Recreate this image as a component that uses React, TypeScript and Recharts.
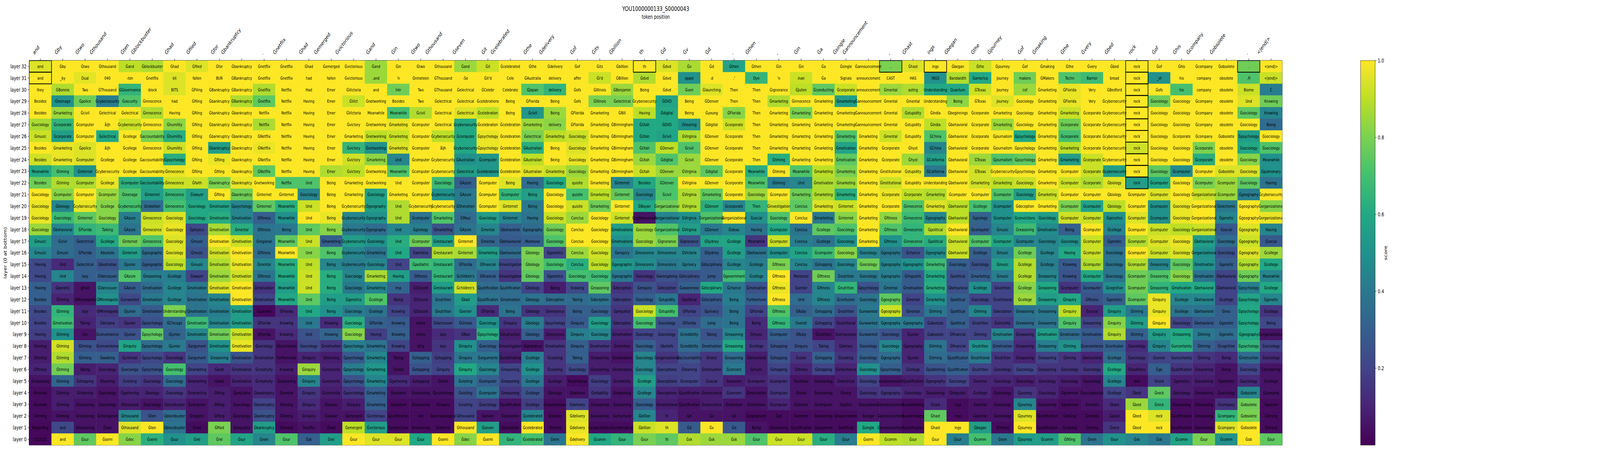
import React from 'react';
import { ScatterChart, Scatter, XAxis, YAxis, ReferenceArea, BarChart, Bar } from 'recharts';

const FONT = '"DejaVu Sans", sans-serif';

// token position labels (top axis)
const tokens = [
  'and', 'Ġby', 'Ġtwo', 'Ġthousand', 'Ġten', 'Ġblockbuster', 'Ġhad', 'Ġfiled', 'Ġfor', 'Ġbankruptcy', '.', 'Ġnetflix', 'Ġhad', 'Ġemerged',
  'Ġvictorious', 'Ġand', 'Ġin', 'Ġtwo', 'Ġthousand', 'Ġseven', 'Ġit', 'Ġcelebrated', 'Ġthe', 'Ġdelivery', 'Ġof', 'Ġits', 'Ġbillion', 'th',
  'Ġd', 'Ġv', 'Ġd', '.', 'Ġthen', ',', 'Ġin', 'Ġa', 'Ġsingle', 'Ġannouncement', ',', 'Ġhast', 'ings', 'Ġbegan',
  'Ġthe', 'Ġjourney', 'Ġof', 'Ġmaking', 'Ġthe', 'Ġvery', 'Ġbed', 'rock',
  'Ġof', 'Ġhis', 'Ġcompany', 'Ġobsolete', '.', '<|end|>',
];

// rows from top to bottom
const layerNumbers = [32, 31, 30, 29, 28, 27, 26, 25, 24, 23, 22, 21, 20, 19, 18, 17, 16, 15, 14, 13, 12, 11, 10, 9, 8, 7, 6, 5, 4, 3, 2, 1, 0];

// top decoded token per cell, one line per layer (same order as layerNumbers), space separated
const topWords = [
  "and Ġby Ġtwo Ġthousand Ġand Ġblockbuster Ġhad Ġfiled Ġfor Ġbankruptcy Ġnetflix Ġnetflix Ġhad Ġemerged Ġvictorious Ġand Ġin Ġtwo Ġthousand Ġand Ġit Ġcelebrated Ġthe Ġdelivery Ġof Ġits Ġbillion th Ġdvd Ġv Ġd Ġthen Ġthen Ġin Ġin Ġa Ġsingle Ġannouncement , Ġhast ings Ġbegan Ġthe Ġjourney Ġof Ġmaking Ġthe Ġvery Ġbed rock Ġof Ġhis Ġcompany Ġobsolete . <|end|>",
  "and _by Dual 040 -ten Ġnetflix kit fallen BUR ĠBankruptcy Ġnetflix Ġnetflix had fallen Ġvictorious ,and 'n Ġnineteen ĠThousand -Se Ġit'd Cele ĠAustralia delivery affer Ġi'd ĠBillion Ġdvd Ġdvd oppel .d .' Dyn 'n inan Ġa Signals announcement CAST HAS INGS Bandwidth Ġamerica Journey makers ĠMakers Techn Barrier bread rock _of his company obsolete .Ĥ <|end|>",
  "they ĠBonnie Two ĠThousand ĠGovernance :block BITS ĠFiling ĠBankruptcy ĠBankruptcy Ġnetflix Netflix Had Emer ĠVictoria and Intr Two ĠThousand Ġelectrical ĠCelebr Celebrate ĠJapan delivery Ġofs ĠIllinois ĠBenjamin Being Ġdvd Ġven Ġlaunching Then Then Ġignorance ĠJulien Ġconducting Ġcorporate announcement Ġmental asting Understanding Quantum ĠTexas Journey ċof Ġmarketing ĠFlorida Very ĠBedford rock Ġofs his company obsolete Biome Ċ",
  "Besides Ġteenage Ġpolice Ġcybersecurity Ġsecurity Ġinnocence had Ġfiling Ġbankruptcy ĠBankruptcy Ġnetflix Netflix Having Emer ĠVict Ġnetworking Besides Two Ġelectrical Ġelectrical Ġcelebrations Being ĠFlorida Being Ġofs ĠIllinois Ġelectrical Ġcybersecurity ĠDVD Being ĠDenver Then Then Ġmarketing Ġinnocence Ġmarketing Ġmarketing Ġannouncement Ġmental Ġmental Understanding Being ĠTexas Journey Ġsociology Ġmarketing ĠFlorida Very Ġcybersecurity rock Ġsociology Ġsociology Ġcompany obsolete Und Knowing",
  "Besides Ġmarketing Ġcivil Ġelectrical Ġelectrical Ġinnocence Having Ġfiling Ġbankruptcy Ġbankruptcy Netflix Netflix Having Emer ĠVictoria Meanwhile Meanwhile Ġcivil Ġelectrical Ġelectrical Ġcelebration Being Ġcivil Being ĠFlorida Ġmarketing ĠBill Having Ġdigital Being Ġyoung ĠFlorida Then Ġmarketing Ġmarketing Ġmarketing Ġmarketing Ġannouncement Ġmental Ġstupidity ĠIndia Ġbeginnings Ġcorporate Ġmarketing Ġsociology Ġmarketing Ġmarketing Ġcorporate Ġcybersecurity rock Ġsociology Ġsociology Ġcompany obsolete Ġsociology Knowing",
  "Ġsociology Ġcorporate Ġcomputer åĳh Ġcybersecurity Ġinnocence Ġhumility Ġfiling Ġbankruptcy Ġbankruptcy Netflix Netflix Having Emer Ġvictory Ġnetworking Ġmarketing Ġcomputer Ġelectrical Ġcybersecurity Ġcelebration Ġcelebration Ġmarketing delivery ĠFlorida Ġmarketing ĠBirmingham ĠUtah ĠDVD Ġhearing Ġdigital Ġcorporate Then Ġmarketing Ġmarketing Ġmarketing Ġmarketing Ġannouncement Ġmental Ġstupidity ĠIndia Ġbehavioral Ġcorporate Ġmarketing Ġsociology Ġmarketing Ġcorporate Ġcorporate Ġcybersecurity rock Ġsociology Ġsociology Ġcompany obsolete Ġsociology Being",
  "Ġmusic Ġcorporate Ġcomputer Ġelectrical Ġcollege Ġaccountability Ġhumility Ġfiling Ġbankruptcy Ġbankruptcy ĠNetflix Netflix Having Emer Ġmarketing Ġnetworking Ġmarketing Ġcomputer Ġcybersecurity Ġcomputer Ġpsychology Ġcelebration Ġelectrical Ġmarketing Ġsociology Ġmarketing ĠBirmingham ĠUtah Ġcivil ĠVirginia ĠDenver Ġcorporate Then Ġmarketing Ġmarketing Ġmarketing Ġmarketing Ġmarketing Ġmental Ġstupidity ĠChina Ġbehavioral Ġcorporate Ġjournalism Ġpsychology Ġmarketing Ġcorporate Ġcorporate Ġcybersecurity rock Ġsociology Ġcorporate Ġcompany Ġobsolete Ġpsychology Ġsociology",
  "Besides Ġmarketing Ġpolice åĳh Ġcollege Ġinnocence Ġhumility Ġfiling Ġbankruptcy Ġbankruptcy ĠNetflix Netflix Having Emer Ġvictory Ġnetworking Ġmarketing Ġcomputer åĳh Ġcybersecurity Ġpsychology Ġcelebration ĠAustralian Being Ġsociology Ġmarketing ĠBirmingham ĠUtah ĠDenver Ġcivil ĠDenver Ġcorporate Then Ġmarketing Ġmarketing Ġmarketing Ġmotivation Ġmarketing Ġcorporate Ġhyst ĠChina Ġbehavioral Ġcorporate Ġjournalism Ġpsychology Ġmarketing Ġmarketing Ġcorporate Ġcybersecurity rock Ġsociology Ġsociology Ġcorporate obsolete Ġsociology Ġsociology",
  "Besides Ġmarketing Ġcomputer Ġcollege Ġcollege Ġaccountability Ġpsychology Ġfiling Ġfiling Ġbankruptcy ĠNetflix Netflix Having Emer Ġvictory Ġmarketing Und Ġcomputer Ġcybersecurity ĠAustralian Ġcomputer Ġcelebration ĠAustralian Being Ġsociology Ġmarketing ĠBirmingham ĠUtah Ġdigital Ġcivil ĠDenver Ġcorporate Then Ġtiming Ġmarketing Ġmarketing Ġmotivation Ġmarketing Ġcorporate Ġhyst ĠCalifornia Ġbehavioral ĠTexas Ġjournalism Ġpsychology Ġmarketing Ġmarketing Ġcorporate Ġcybersecurity rock Ġsociology Ġsociology Ġcorporate obsolete Ġsociology Meanwhile",
  "Meanwhile Ġtiming Ġinternet Ġcybersecurity Ġcollege Ġaccountability Ġinnocence Ġfiling Ġfiling Ġbankruptcy ĠNetflix Netflix Having Emer Ġvictory Ġnetworking Meanwhile Ġcomputer Ġcybersecurity Ġelectrical Ġcelebrations Ġcelebration ĠAustralian Ġmarketing Ġsociology Ġmarketing ĠBirmingham ĠUtah ĠDenver ĠVirginia Ġdigital Ġcorporate Meanwhile Ġtiming Meanwhile Ġmarketing Ġmarketing Ġmarketing Ġinstitutional Ġstupidity ĠCalifornia Ġbehavioral ĠTexas Ġcybersecurity Ġpsychology Ġmarketing Ġcomputer Ġcorporate Ġcybersecurity rock Ġsociology Ġcomputer Ġcomputer Ġobsolete Ġsociology Ġpulmonary",
  "Besides Ġtiming Ġcomputer Ġcollege Ġcomputer Ġaccountability Ġinnocence Ġfaith Ġbankruptcy Ġbankruptcy Ġnetworking Netflix Und Being Ġmarketing Ġnetworking Und Ġcomputer Ġsociology ĠAzure Ġcomputer Being Having Ġsociology quisite Ġmarketing Ġinternet Besides ĠDenver ĠVirginia ĠDenver Ġcorporate Meanwhile Ġtiming Und Ġmotivation Ġmarketing Ġmarketing Ġinstitutional Ġstupidity Understanding Ġbehavioral Ġmarketing Ġmarketing Ġsociology Ġmarketing Ġcomputer Ġcorporate Ġbiology rock Ġcomputer Ġsociology Ġcomputer Ġcomputer Ġsociology Having",
  "Ġsociology Ġcomputer Ġcomputer Ġcomputer Ġteenage Ġinternet Ġinnocence Ġlawyer Ġfiling Ġbankruptcy Ġinternet Ġinternet Ġsociology Being Ġmarketing Ġsociology Ġmarketing Ġcomputer Ġcybersecurity ĠAzure Ġcomputer Ġcomputer Being Ġsociology quisite Ġmarketing Ġinternet Ġsociology Ġcivil ĠVirginia Ġmarketing Ġcorporate Ġsociology Ġcomputer Ġmarketing Ġmarketing Ġmarketing Ġmarketing Ġcorporate Ġcorporate Ġmarketing Ġcomputer Ġcomputer Ġcomputer Ġsociology Ġmarketing Ġcomputer Ġcomputer Ġbiology Ġcomputer Ġcomputer Ġsociology Ġorganizational Ġcomputer Ġgeography Ġcybersecurity",
  "Ġsociology Ġbiology Ġcybersecurity Ġcollege Ġcybersecurity Ġrebellion Ġinnocence Ġsociology Ġmotivation Ġpsychology Ġinternet Meanwhile Und Being Ġcybersecurity Ġgeography Und Ġcybersecurity Ġcybersecurity ĠShenzhen Ġcomputer Ġinternet Being Ġsociology quisite Ġmarketing Ġinternet ĠBayan Ġorganizational ĠVirginia ĠDenver Ġcorporate Then Ġinvestigation Conclus Ġmarketing Ġinternet Ġmarketing Ġcorporate Ġinnocence Ġmarketing Ġbehavioral Ġcollege Ġcomputer Ġdeception Ġmarketing Ġcomputer Ġcomputer Ġbiology Ġcomputer Ġcomputer Ġsociology Ġorganizational Ġelectronic Ġgeography Ġorganizational",
  "Ġsociology Ġsociology Ġinternet Ġsociology ĠAzure Ġinnocence Ġsociology Ġsociology Ġmotivation Ġmotivation Ġfitness Meanwhile Und Being Ġcybersecurity Ġgeography Und Ġcomputer Ġmarketing ĠMaui Ġsociology Ġinternet Having Ġsociology Conclus Ġsociology Ġinternet Ġrighteousness Ġorganizational ĠVirginia Ġorganizational Ġorganizational Ġsocial Ġsociology Conclus Ġmarketing Ġinternet Ġmarketing Ġfitness Ġinnocence Ġgeography Ġbehavioral Ġgeology Ġcomputer Ġconvictions Ġsociology Ġcomputer Ġcomputer Ġgenetics Ġcomputer Ġcomputer Ġsociology Ġorganizational Ġgenetic Ġgeography Ġorganizational",
  "Ġsociology Ġbehavioral ĠFlorida Talking ĠAzure Ġinnocence Ġsociology Ġphysics Ġmotivation Ġmental Ġfitness Being Und Being Ġcybersecurity Ġgeography Und Ġgeology Ġmarketing ĠAzure Ġmental Ġbehavioral Ġgeography Ġsociology Conclus Ġsociology Ġmotivations Ġsociology Ġorganizational ĠVirginia ĠDenver Ġideas Having Ġcomputer Conclus Ġcollege Ġsociology Ġmarketing Ġfitness Ġinnocence Ġpolitical Ġbehavioral Ġcomputer Ġmusic Ġreasoning Ġmotivation Being Ġcomputer Ġcollege Ġcomputer Ġcomputer Ġsociology Ġorganizational Ġsocial Ġgeography Having",
  "Ġmusic Ġcivil Ġelectrical Ġcollege Ġinternet Ġinnocence Ġsociology Ġmusic Ġmotivation Ġmotivation Ġregional Meanwhile Und Ġmarketing Ġcybersecurity Ġsociology Und Ġcomputer Ġrestaurant Ġinternet Ġmental Ġbehavioural Moreover Ġsociology Conclus Ġsociology Ġmotivations Ġsociology Ġignorance Ġignorance ĠSydney Ġcollege Meanwhile Ġcomputer Conclus Ġcollege Ġsociology Ġmarketing Ġfitness Ġinnocence Ġpolitical Ġbehavioral Ġcomputer Ġcomputer Ġcomputer Ġsociology Ġsociology Ġcomputer Ġgenetic Ġcomputer Ġcomputer Ġsociology Ġbehavioral Ġsociology Ġgeography Ġsocial",
  "Ġmusic Ġmusic ĠFlorida Absolute Ġinternet Ġgeographic Ġsociology Ġmusic Ġmotivation Ġmotivation Ġfitness Meanwhile Und Being Ġcybersecurity Ġmarketing Und Ġwireless Ġrestaurant Ġinternet Ġmarketing Ġbehavioural Ġbiology Ġgenetics Conclus Ġsociology Ġenquiry Ġinnocence Ġinnocence ĠVictoria ĠSydney Ġcollege Ġbehavioral Ġcomputer Conclus Ġcomputer Ġsociology Ġsociology Ġgeography Ġchance Ġgeography Ġbehavioral Ġcollege Ġmusic Ġcollege Ġcollege Having Ġcomputer Ġsociology Ġcomputer Ġcomputer Ġsociology Ġorganizational Ġsociology Ġgeography Ġcollege",
  "Having Und Ġelectrical ĠAustralian Ġjunior Ġgeographic Ġsociology Ġmusic Ġmotivation Ġmotivation Ġmental Meanwhile Und Being Ġcybersecurity Ġsociology Und Ġpediatric Ġrestaurant ĠFlorida Ġfinancial Ġinvestigation Ġbiology Ġsociology Conclus Ġsociology Ġgeographic Ġinnocence Ġinnocence Ġprivacy Ġdisciplinary Ġcollege Ġcollege Ġfitness Conclus Ġshopping Ġsociology Ġsociology Ġgeography Ġgeographic Ġmarketing Ġsociology Ġsociology Ġmusic Ġcollege Ġcollege Knowing Ġcomputer Ġsociology Ġcomputer Ġreasoning Ġsociology Ġmotivation Ġgenetic Ġgeography Ġcollege",
  "Having Und lazy ĠVancouver ĠAzure Ġreasoning Ġcollege Ġlawyer Ġmotivation Ġmotivation Ġfitness Meanwhile Und Being Ġsociology Ġmarketing Having Ġfitness Ġrestaurant Ġchildren's Ġfinancial Ġinvestigation Ġbiology Ġgenetics Ġsociology Ġsociology Ġgeographic Ġsociology Ġwrongdoing Ġdisciplinary Jump Ġgovernment Ġcollege Ġfitness Moreover Ġfitness Ġnutrition Ġsociology Ġgeography Ġlinguistic Ġmarketing Ġpolitical Ġmarketing Ġmusic Ġcollege Ġreasoning Knowing Ġcomputer Ġsociology Ġcomputer Ġreasoning Ġsociology Ġmotivation Ġbehavioral Ġgeography Meanwhile",
  "Having Ġgenetic ghost ĠVancouver ĠAzure Ġmotivation Ġcollege Ġmotivation Ġmotivation Ġmotivation Ġmotivation Meanwhile Und Being Ġsociology Ġmarketing Imp ĠDiscord Ġrestaurant Ġchildren's Ġjustification Ġjustification Ġbiology Being Knowing Ġreasoning Ġdeception Ġenquiry Ġdeception Ġawareness Ġdisciplinary Ġchance Ġmotivation Ġfitness Ġsenior Ġfitness Ġnutrition Ġpsychology Ġmental Ġmotivation Ġmarketing Ġbehavioral Ġcollege Ġnutrition Ġcollege Ġreasoning Ġcomputer Ġcomputer Ġcognitive Ġcomputer Ġreasoning Ġmotivation Ġbehavioral Ġbehavioral Ġpsychology Ġcollege",
  "Besides Ġtiming ĠMinneapolis ĠMinneapolis Ġunwanted Ġmotivation Ġcollege Ġmotivation Ġmotivation Ġmotivation Ġmotivation Meanwhile Und Being Ġgenetics Ġcollege Being ĠDiscord Ġnutrition Ġbad Ġjustification Ġmotivation Ġbiology Ġdeception Taking Ġdeception Ġdeception Ġsociology Ġstupidity Ġpolitical Ġdisciplinary Being Furthermore Ġfitness Und Ġfitness Ġconfusion Ġsociology Ġgeography Ġmental Ġmarketing Ġpolitical Ġsociology Ġnutritional Ġcollege Ġreasoning Ġinquiry Ġfitness Ġgenetics Ġcomputer Ġinquiry Ġcollege Ġbehavioral Ġcollege Ġpsychology Ġgenetic",
  "Besides Ġtiming lazy ĠMinneapolis Ġjunior Ġmotivation Understanding Ġmotivation Ġmotivation Ġmotivation ĠLaravel ĠFlorida Und Being Ġsociology Ġcollege Knowing ĠDiscord Ġnutrition Ġsenior ĠFlorida Being Ġbiology Ġinnocence Being Ġsociology Ġprejudice Ġsociology Ġstupidity ĠFlorida Ġprivacy Being ĠFlorida Ġfitness ĠRuby Ġshopping Ġnutrition Ġunwanted Ġgeography Ġmental Ġtiming Ġpolitical Ġtiming Ġdeception Ġreasoning Ġreasoning Ġinquiry Ġsocial Ġinquiry Ġtiming Ġinquiry Ġcollege Ġbehavioral Ġneu Ġpsychology Ġcollege",
  "Besides Ġmotivation Taking ĠArizona Ġjunior Ġpsychology ĠChicago Ġmotivation Ġmotivation Ġmotivation ĠFlorida Knowing Und Knowing Ġsociology ĠFlorida Knowing mless ĠVancouver ĠUnreal Ġsociology Ġinquiry Ġbiology Ġpsychology Ġinquiry Ġsociology Ġdeception Ġsociology Ġsociology ĠFlorida Jump Being Being Ġfitness Overall Ġshopping Ġnutritional Ġunwanted Ġgeography Ġgeography Ġabsolute Ġpolitical Ġnutrition Ġsincerity Ġreasoning Ġreasoning Ġinquiry Ġreasoning Ġinquiry Ġtiming Ġinquiry Ġsociology Ġbehavioral Ġgenetic Ġpsychology Being",
  "Having Ġtiming Inv Ġconvenience Ġjunior Ġpsychology Ġjunior Ġmotivation Ġmotivation Ġmotivation ĠFlorida Knowing Und Knowing Ġsociology Having Knowing mless lazy ĠBad Ġpsychology Ġinstruction Ġbiology Ġinnocence Ġinquiry Ġsociology Ġmotivation Ġsociology Ġsociology Ġcredibility Taking Ġreasoning Ġmusic Ġcomputer ĠRuby Ġnutrition Ġseriousness Ġunwanted Ġsociology Ġjunior Ġabsolute Ġfinancial Ġtiming Ġmotivation Ġreasoning Ġmotivation Ġmotivation Ġmotivation Ġinquiry Ġtiming Ġinquiry Ġreasoning Ġtiming Ġgenetic Ġgeography Ġorganizational",
  "Ġtiming Ġtiming Ġtiming Ġconvenience Ġinquiry Ġpsychology Ġjunior Ġargument Ġmotivation Ġmotivation Ġsociology Ġtorchvision Ġsociology Ġmotivation Ġpsychology Ġmarketing Knowing dirty lazy Ġinquiry Ġsociology Ġinvestigation Ġignorance Ġmotivation Ġinquiry Ġmotivation Ġintention Ġsociology Ġbeliefs Ġcredibility Ġmotivation Ġreasoning Ġcollege Ġshopping Ġinquiry Taking Ġdietary Ġsociology Ġsociology Ġgeography Ġtiming Ġfinancial Ġnutrition Ġmotivation Ġreasoning Ġreasoning Ġtiming Ġconvenience Ġconfusion Ġsociology Ġinquiry Ġuncertainty Ġtiming Ġcognitive Ġpsychology Ġsociology",
  "Ġtiming Ġtiming Ġtiming Ġwalking Ġcriminal Ġpsychology Ġsociology Ġargument Ġreasoning Ġmotivation Ġmotivation Furthermore Ġinquiry Ġlistening Ġpsychology Ġmarketing Taking Ġshopping Ġshopping Ġinquiry Ġarguments Ġundertaking Ġcollege Ġcooking Taking Ġreasoning Ġmotivation Ġsociology Ġorganizational Ġaccountability Ġhotel Ġreasoning Ġbehavioral Ġshopping Ġcolor Ġshopping Ġcooking Ġsociology Ġgeography Ġjunior Ġtiming Ġjustification Ġnutritional Ġnutrition Ġreasoning Ġreasoning Ġtiming Ġbehavioral Ġcollege Ġsociology Ġsenior Ġuncertainty Ġtiming Being Ġinstruction Ġsociology",
  "Ġfitness Ġtiming Taking Ġsociology Ġsociology Ġpsychology Ġsociology Ġmarketing Ġweb Ġmotivation Ġcreativity Knowing Ġinquiry Ġuniversity Ġpsychology Ġmarketing Ġhotel Ġshopping Ġinquiry Ġinquiry Ġsociology Ġreasoning Ġcollege Ġcooking Ġsociology Ġreasoning Ġmotivation Ġsociology Ġexceptions Ġlearning Ġmotivation Ġconcern Ġmusic Ġshopping Ġfitness Ġshopping Ġinheritance Ġsociology Ġpsychology Ġcollege Ġpublishing Ġjustification Ġnutrition Ġsociology Ġsociology Ġreasoning Ġsociology Ġsociology Ġcollege Ġtraditions Ġge Ġjustification Ġreasoning Being Ġsociology Considering",
  "Ġreasoning Ġtiming Ġshopping Ġhearing Ġvisiting Ġsociology Ġsociology Ġmarketing Ġweb Ġmotivation Ġcreativity Ġreasoning Ġinquiry Ġuniversity Ġpsychology Ġmarketing Ġgathering Ġshopping Ġhotel Ġvisiting Ġcomputer Ġreasoning Ġcollege Ġcollege Ġnutritional Ġsociology Ġcreativity Ġcollege Ġexceptions Ġcomputer Ġsocial Ġconcern Ġcomputer Ġcomputer Ġoutdoor Ġreasoning Ġelectrical Ġsociology announcement Ġjustification Ġgeography Ġsociology Ġanimal Ġsociology Ġsociology Ġsociology Ġsociology Ġsociology Ġcollege bed Ġrock Ġgenetics Ġreasoning Ġgenetics Ġsociology Ġcollege",
  "Ġmorals Ġtiming Ġlistening Ġsociology Ġgathering Ġbiology Ġsociology Ġmarketing Ġfiling Ġprejudice Ġbankruptcy Ġmental Ġinquiry Ġuniversity Ġpsychology Ġmarketing Ġresident Ġreasoning Ġpsychology Ġvisiting Ġcomputer Ġreasoning Ġcollege Ġbiology Ġdelivery Ġreliability Ġreasoning Ġcollege Ġexceptions Ġjustification Ġconscience Ġconcern Ġmotivation Ġcomputer Ġhotel Ġreasoning Ġirony Ġsociology Ġgeography Ġsociology Ġreasoning Ġlinguistic Ġcollege Ġsociology Ġjourney Ġsociology Ġgrammar Ġoccupational Ġcollege Ġbed Ġrock Ġsociology Ġreasoning Ġsociology Ġobsolete Ġsleeping",
  "Ġmorals Ġtiming Ġreasoning Ġsociology Ġthousand Ġsociology Ġblockbuster Ġcomputer Ġfiling Ġsociology Ġbankruptcy Ġtiming Ġinquiry Ġlawyer Ġinquiry Ġmarketing Ġresident Ġreasoning Ġinquiry Ġvisiting Ġsociology Ġjustification Ġcollege Ġexpectations Ġdelivery Ġreasoning Ġreasoning Ġsociology Ġinstitutional Ġjustification Ġconscience Ġintention Ġintentions Ġcomputer Ġinterior Ġcomputer Ġoptics Ġexceptions Ġannouncement Ġundertaking Ġhast ings Ġanimal Ġsociology Ġjourney Ġreasoning Ġgrammar Ġmorals Ġbare Ġbed Ġrock Ġreasoning Ġreasoning Ġcompany Ġobsolete Ġparent",
  "Ġtiming Ġtiming Ġreasoning Ġintelligence Ġthousand Ġten Ġblockbuster Ġregister Ġfiling Ġsociology Ġbankruptcy Ġtiming Ġinquiry Ġlawyer Ġemerged Ġvictorious Ġjustification osit Ġarchaeological Ġthousand Ġseven Ġexception Ġcelebrated Ġmorals Ġdelivery Ġreasoning Ġstructural Ġbillion th Ġd Ġv Ġd Ġequipment Ġge Ġinterior Ġreasoning Ġexpectations Ġsingle Ġannouncement Ġundertaking Ġhast ings Ġanimal Ġsociology Ġjourney Ġjustification Ġethical Ġmorals Ġplain Ġbed rock Ġjustification Ġreasoning Ġcompany Ġobsolete Ġtiming",
  "Regarding and Ġreasoning Ġtwo Ġthousand Ġten Ġblockbuster Ġhad Ġfiled Ġprejudice Ġbankruptcy Ġtiming Ġnetflix Ġhad Ġemerged Ġvictorious Ġprotections Ġreasoning Ġinternal Ġthousand Ġseven Ġexception Ġcelebrated Ġtiming Ġdelivery Ġexpectations Ġundertaking Ġbillion th Ġd Ġv Ġd Being Ġreasoning Ġjustification Ġargument Ġartificial Ġsingle Ġannouncement Ġjustification Ġhast ings Ġbegan Ġtiming Ġjourney Ġjustification Ġmaking Ġtiming Ġvery Ġbed rock Ġjustification Ġreasoning Ġcompany Ġobsolete Ġtiming",
  "CCCCCC and Ġsur Ġsemi Ġdec Ġsemi Ġsur Ġrel Ġrel Ġsur Ġrem Ġsur Ġsk Ġrel Ġsur Ġsur Ġsur Ġsur Ġsemi Ġdec Ġsemi Ġsur Ġcelebrated Ġrem Ġdelivery Ġcomm Ġsur Ġsur th Ġsk Ġsk Ġsk Ġsur Ġsur Ġsur Ġsur Ġsur Ġsemi Ġcomm Ġsur Ġsur Ġsur Ġcomm Ġrem Ġjourney Ġcomm Ġfilling Ġrem Ġsur Ġsk Ġsk Ġcomm Ġsur Ġcomm Ġob Ġsur",
];

// score per cell (same layout as topWords)
const scores = [
  [0.95, 1, 1, 1, 0.9, 0.88, 1, 0.95, 1, 1, 1, 1, 1, 1, 1, 0.85, 1, 1, 1, 0.85, 0.92, 1, 1, 1, 1, 1, 1, 1, 0.95, 0.87, 1, 0.58, 1, 1, 1, 1, 1, 1, 0.8, 0.95, 1, 1, 0.92, 1, 1, 1, 1, 1, 1, 1, 1, 1, 1, 1, 0.78, 1],
  [1, 1, 0.96, 1, 1, 1, 0.95, 1, 1, 1, 1, 1, 1, 1, 1, 0.85, 1, 1, 1, 1, 1, 1, 1, 1, 1, 0.92, 1, 0.88, 1, 0.5, 1, 1, 0.65, 1, 0.92, 1, 1, 1, 1, 1, 0.5, 0.88, 0.6, 1, 0.78, 1, 0.72, 0.68, 1, 1, 0.5, 1, 1, 1, 0.72, 0.92],
  [1, 0.88, 1, 1, 0.65, 1, 0.95, 1, 1, 1, 0.88, 1, 1, 1, 1, 1, 0.78, 1, 1, 1, 1, 1, 0.72, 0.65, 1, 1, 0.85, 1, 1, 0.78, 0.95, 1, 1, 1, 0.9, 0.75, 0.92, 1, 0.85, 0.88, 0.6, 0.6, 0.92, 1, 0.85, 1, 0.97, 1, 1, 1, 1, 0.7, 1, 1, 0.92, 0.42],
  [1, 0.5, 0.78, 0.42, 0.72, 1, 1, 1, 1, 0.88, 0.75, 1, 1, 1, 0.92, 1, 1, 1, 1, 1, 1, 1, 1, 1, 1, 0.8, 0.8, 1, 0.58, 1, 1, 1, 1, 0.88, 1, 1, 0.55, 1, 1, 1, 1, 0.83, 1, 0.95, 1, 1, 0.97, 1, 1, 1, 0.78, 1, 1, 1, 0.95, 0.78],
  [1, 0.85, 1, 1, 1, 0.88, 1, 1, 1, 1, 1, 1, 1, 1, 1, 1, 0.7, 0.88, 1, 0.95, 0.9, 1, 0.52, 0.85, 1, 1, 1, 0.9, 0.6, 1, 1, 0.82, 1, 1, 0.8, 1, 1, 1, 1, 0.88, 1, 1, 1, 1, 1, 1, 0.92, 1, 1, 1, 1, 1, 1, 1, 0.75, 0.45],
  [0.87, 0.65, 1, 1, 0.92, 1, 0.83, 1, 1, 1, 0.87, 1, 1, 1, 1, 1, 0.97, 1, 1, 0.6, 1, 1, 0.85, 0.83, 1, 1, 1, 0.6, 0.6, 0.5, 1, 0.92, 1, 1, 1, 1, 1, 1, 1, 1, 0.9, 1, 1, 0.85, 1, 1, 0.78, 1, 1, 1, 1, 1, 1, 1, 1, 0.35],
  [0.92, 0.55, 1, 0.6, 1, 0.8, 0.62, 1, 1, 1, 1, 1, 1, 1, 1, 0.9, 0.92, 1, 0.9, 0.6, 0.97, 1, 0.8, 0.9, 0.92, 1, 1, 0.6, 0.58, 0.88, 1, 1, 1, 1, 1, 1, 0.72, 1, 0.92, 1, 0.72, 1, 1, 1, 0.6, 1, 0.7, 1, 1, 1, 1, 1, 1, 1, 0.55, 1],
  [1, 0.97, 0.95, 1, 1, 1, 0.93, 1, 0.55, 1, 0.97, 1, 1, 1, 0.65, 0.5, 0.95, 1, 1, 0.6, 0.97, 1, 0.62, 1, 0.95, 1, 1, 0.72, 0.9, 0.72, 1, 1, 1, 1, 1, 1, 0.58, 1, 1, 1, 0.45, 1, 1, 1, 1, 1, 0.9, 1, 1, 0.93, 1, 1, 0.8, 1, 0.6, 0.72],
  [0.93, 0.97, 0.95, 1, 1, 1, 0.62, 1, 0.97, 1, 1, 1, 1, 1, 0.93, 0.83, 0.45, 1, 1, 0.5, 0.52, 1, 0.9, 1, 0.97, 1, 1, 0.85, 0.72, 0.85, 1, 1, 1, 0.62, 1, 1, 0.75, 1, 1, 0.85, 0.55, 1, 0.85, 0.72, 0.75, 1, 0.55, 0.92, 1, 1, 1, 1, 0.62, 1, 0.82, 0.5],
  [0.6, 0.7, 0.5, 1, 1, 1, 0.97, 1, 1, 1, 0.75, 1, 1, 0.88, 0.9, 1, 0.72, 1, 1, 0.55, 0.52, 1, 0.95, 0.92, 0.85, 1, 1, 0.92, 0.85, 0.85, 0.75, 1, 0.62, 1, 0.72, 0.9, 0.8, 1, 1, 0.97, 0.4, 1, 0.93, 1, 1, 1, 1, 0.92, 0.55, 1, 0.75, 0.48, 1, 0.95, 0.95, 0.5],
  [0.78, 0.88, 0.88, 0.97, 0.63, 0.58, 0.92, 0.92, 0.8, 0.97, 1, 0.72, 0.72, 1, 1, 1, 1, 1, 0.68, 0.3, 1, 0.95, 0.35, 0.6, 0.88, 1, 0.45, 0.6, 0.72, 1, 1, 1, 0.72, 0.42, 0.45, 0.88, 0.85, 1, 0.92, 1, 1, 1, 0.93, 0.9, 0.92, 1, 0.92, 0.88, 0.95, 0.55, 0.6, 1, 0.8, 0.85, 0.75, 0.38],
  [1, 0.82, 1, 0.85, 0.72, 0.55, 0.66, 0.55, 1, 0.78, 1, 1, 0.45, 1, 1, 0.55, 1, 1, 0.5, 0.4, 1, 0.65, 0.55, 1, 0.7, 0.9, 0.75, 0.45, 0.72, 0.88, 0.75, 1, 0.85, 1, 0.78, 0.88, 0.62, 1, 0.97, 0.9, 0.88, 1, 1, 0.72, 0.55, 0.92, 1, 1, 1, 1, 0.95, 1, 0.92, 0.85, 0.42, 1],
  [0.97, 0.45, 0.97, 0.82, 0.7, 0.35, 0.7, 0.6, 0.58, 0.45, 0.75, 0.62, 0.92, 1, 1, 0.55, 0.88, 1, 1, 0.4, 1, 0.95, 0.4, 1, 0.92, 0.78, 1, 0.6, 0.78, 0.88, 0.62, 0.45, 0.65, 0.93, 0.75, 0.95, 0.92, 1, 1, 0.72, 0.95, 0.9, 0.7, 0.5, 1, 1, 0.8, 0.58, 0.9, 1, 0.5, 0.97, 1, 0.4, 1, 0.82],
  [0.97, 0.68, 0.75, 0.82, 0.42, 0.92, 0.95, 0.6, 0.62, 0.45, 0.3, 0.5, 1, 0.97, 0.45, 0.5, 0.88, 0.38, 0.72, 0.35, 0.55, 0.45, 0.38, 0.92, 0.85, 1, 0.92, 0.05, 0.45, 0.5, 0.72, 1, 0.5, 0.72, 1, 0.4, 0.82, 1, 0.83, 0.68, 0.45, 0.9, 0.32, 0.5, 0.6, 0.55, 0.93, 0.92, 0.5, 0.95, 0.5, 0.97, 1, 0.45, 1, 0.97],
  [0.85, 0.45, 0.65, 0.68, 0.38, 0.93, 0.97, 0.22, 0.87, 0.62, 0.38, 0.4, 0.75, 0.82, 0.4, 0.35, 0.45, 0.42, 0.25, 0.38, 0.45, 0.3, 0.35, 0.78, 1, 1, 0.55, 0.85, 0.72, 0.55, 0.4, 0.45, 0.38, 0.6, 0.38, 0.75, 0.72, 1, 0.72, 0.65, 0.88, 1, 0.3, 0.45, 0.68, 0.48, 0.3, 1, 0.45, 1, 0.92, 0.9, 0.92, 0.28, 0.95, 0.45],
  [0.55, 0.35, 0.3, 0.6, 0.78, 0.72, 0.95, 0.3, 1, 0.92, 0.38, 0.75, 0.92, 0.3, 0.55, 0.5, 0.62, 0.78, 0.55, 1, 0.32, 0.28, 0.3, 0.72, 1, 1, 0.5, 0.85, 0.8, 0.25, 0.58, 0.58, 0.15, 0.92, 0.42, 0.38, 0.5, 1, 0.5, 0.65, 0.62, 0.92, 0.72, 0.58, 0.45, 0.45, 0.5, 0.92, 0.3, 0.88, 0.95, 0.97, 0.55, 0.35, 0.92, 0.28],
  [0.45, 0.35, 0.3, 0.38, 0.55, 0.35, 0.95, 0.25, 0.93, 1, 0.35, 1, 0.82, 0.72, 0.45, 0.38, 0.6, 0.2, 0.88, 0.87, 0.55, 0.35, 0.8, 0.2, 0.85, 0.93, 0.38, 0.45, 0.45, 0.45, 0.3, 0.55, 0.38, 0.5, 0.58, 0.68, 0.82, 0.45, 0.4, 0.25, 0.48, 0.92, 0.3, 0.45, 0.78, 0.45, 0.6, 0.92, 0.38, 1, 0.92, 0.95, 0.5, 0.25, 0.95, 0.85],
  [0.22, 0.12, 0.3, 0.25, 0.4, 0.3, 0.9, 0.45, 0.88, 0.97, 0.45, 0.62, 0.9, 0.45, 0.42, 0.45, 0.2, 0.68, 0.65, 0.35, 0.45, 0.2, 0.78, 0.7, 0.62, 0.9, 0.52, 0.48, 0.4, 0.42, 0.28, 0.45, 0.42, 0.8, 0.45, 0.38, 0.45, 0.78, 0.45, 0.5, 0.68, 0.3, 0.25, 0.55, 0.88, 0.42, 0.28, 0.88, 0.38, 0.88, 0.45, 0.75, 0.5, 0.3, 0.88, 0.6],
  [0.22, 0.45, 0.3, 0.3, 0.72, 0.42, 0.42, 0.2, 0.85, 0.93, 0.38, 0.6, 0.92, 0.62, 0.45, 0.87, 0.55, 0.28, 0.65, 0.4, 0.3, 0.15, 0.75, 0.25, 0.7, 0.68, 0.4, 0.15, 0.25, 0.25, 0.28, 0.68, 0.45, 1, 0.2, 0.78, 0.4, 0.4, 0.42, 0.28, 0.6, 0.25, 0.3, 0.42, 0.88, 0.45, 0.25, 0.6, 0.38, 0.78, 0.72, 0.82, 0.38, 0.2, 0.78, 0.45],
  [0.3, 0.15, 0.05, 0.45, 0.28, 0.35, 0.45, 0.4, 0.95, 1, 0.15, 0.55, 0.92, 0.62, 0.4, 0.45, 0.32, 0.08, 0.55, 0.93, 0.35, 0.35, 0.2, 0.08, 0.22, 0.75, 0.15, 0.25, 0.2, 0.3, 0.6, 0.4, 0.25, 0.97, 0.2, 0.45, 0.65, 0.25, 0.38, 0.28, 0.62, 0.25, 0.5, 0.2, 0.82, 0.6, 0.15, 0.28, 0.48, 0.78, 0.65, 0.6, 0.6, 0.2, 0.42, 0.6],
  [0.3, 0.1, 0.05, 0.5, 0.22, 0.4, 0.45, 0.38, 0.45, 1, 0.2, 0.6, 0.75, 0.55, 0.55, 0.72, 0.15, 0.1, 0.38, 0.55, 0.38, 0.35, 0.38, 0.35, 0.35, 0.38, 0.18, 0.3, 0.38, 0.1, 0.28, 0.42, 0.3, 1, 0.35, 0.45, 0.35, 0.38, 0.75, 0.2, 0.5, 0.3, 0.2, 0.2, 0.85, 0.55, 0.6, 0.25, 0.3, 0.75, 0.97, 0.45, 0.45, 0.2, 0.58, 0.45],
  [0.22, 0.65, 0.12, 0.15, 0.35, 0.28, 0.8, 0.38, 0.42, 0.55, 0.02, 0.12, 0.6, 0.5, 0.42, 0.38, 0.2, 0.1, 0.4, 0.5, 0.12, 0.38, 0.15, 0.15, 0.3, 0.3, 0.15, 0.92, 0.7, 0.2, 0.25, 0.38, 0.2, 0.72, 0.3, 0.35, 0.25, 0.4, 0.92, 0.25, 0.4, 0.3, 0.45, 0.2, 0.38, 0.4, 0.9, 0.1, 0.55, 0.4, 0.97, 0.38, 0.38, 0.3, 0.6, 0.15],
  [0.2, 0.68, 0.1, 0.18, 0.15, 0.25, 0.35, 0.68, 0.45, 0.55, 0.15, 0.15, 0.4, 0.12, 0.62, 0.3, 0.28, 0.05, 0.22, 0.28, 0.5, 0.15, 0.42, 0.2, 0.28, 0.55, 0.15, 0.7, 0.25, 0.25, 0.35, 0.38, 0.12, 0.65, 0.4, 0.2, 0.12, 0.38, 0.42, 0.4, 0.2, 0.3, 0.2, 0.15, 0.35, 0.38, 0.72, 0.2, 0.82, 0.55, 1, 0.2, 0.28, 0.3, 0.6, 0.22],
  [0.18, 0.5, 0.05, 0.25, 0.25, 0.75, 0.32, 0.45, 0.78, 0.92, 0.05, 0.12, 0.25, 0.32, 0.82, 0.18, 0.3, 0.05, 0.12, 0.15, 0.62, 0.08, 0.3, 0.08, 0.42, 0.45, 0.1, 0.2, 0.2, 0.38, 0.25, 0.45, 0.1, 0.3, 0.25, 0.05, 0.1, 0.3, 0.25, 0.1, 0.2, 0.2, 0.2, 0.45, 0.15, 0.55, 0.35, 0.28, 0.88, 0.3, 0.55, 0.6, 0.4, 0.35, 0.6, 0.05],
  [0.08, 0.93, 0.25, 0.22, 0.58, 0.35, 0.4, 0.25, 0.5, 0.97, 0.15, 0.05, 0.22, 0.15, 0.42, 0.38, 0.2, 0.05, 0.15, 0.5, 0.3, 0.1, 0.05, 0.15, 0.3, 0.15, 0.08, 0.3, 0.2, 0.35, 0.3, 0.6, 0.15, 0.25, 0.25, 0.2, 0.12, 0.28, 0.45, 0.1, 0.38, 0.2, 0.5, 0.28, 0.12, 0.42, 0.5, 0.25, 0.3, 0.12, 0.45, 0.62, 0.3, 0.25, 0.65, 0.2],
  [0.08, 0.88, 0.3, 0.3, 0.15, 0.22, 0.15, 0.28, 0.42, 0.25, 0.15, 0.05, 0.1, 0.08, 0.28, 0.45, 0.05, 0.3, 0.18, 0.4, 0.38, 0.08, 0.42, 0.15, 0.3, 0.08, 0.05, 0.45, 0.15, 0.25, 0.15, 0.35, 0.08, 0.25, 0.15, 0.3, 0.15, 0.3, 0.35, 0.1, 0.35, 0.3, 0.4, 0.15, 0.1, 0.2, 0.15, 0.1, 0.35, 0.15, 0.2, 0.2, 0.15, 0.12, 0.35, 0.12],
  [0.1, 0.78, 0.08, 0.1, 0.25, 0.25, 0.7, 0.2, 0.12, 0.15, 0.15, 0.08, 0.85, 0.1, 0.42, 0.52, 0.05, 0.25, 0.2, 0.6, 0.45, 0.2, 0.5, 0.15, 0.22, 0.08, 0.08, 0.45, 0.2, 0.2, 0.15, 0.4, 0.08, 0.2, 0.1, 0.2, 0.1, 0.5, 0.3, 0.15, 0.25, 0.3, 0.2, 0.15, 0.2, 0.15, 0.15, 0.15, 0.6, 0.1, 0.3, 0.15, 0.1, 0.05, 0.2, 0.05],
  [0.05, 0.32, 0.15, 0.08, 0.18, 0.15, 0.35, 0.1, 0.05, 0.1, 0.12, 0.05, 0.45, 0.1, 0.25, 0.45, 0.12, 0.08, 0.05, 0.38, 0.3, 0.2, 0.4, 0.08, 0.03, 0.18, 0.08, 0.55, 0.18, 0.2, 0.15, 0.08, 0.1, 0.15, 0.05, 0.05, 0.08, 0.2, 0.05, 0.08, 0.15, 0.2, 0.1, 0.1, 0.08, 0.1, 0.08, 0.05, 0.45, 0.03, 0.2, 0.08, 0.08, 0.05, 0.12, 0.05],
  [0.03, 0.08, 0.08, 0.05, 0.1, 0.1, 0.15, 0.1, 0.08, 0.05, 0.12, 0.05, 0.15, 0.08, 0.15, 0.3, 0.05, 0.05, 0.05, 0.25, 0.38, 0.15, 0.25, 0.05, 0.05, 0.15, 0.05, 0.45, 0.1, 0.08, 0.08, 0.15, 0.05, 0.15, 0.05, 0.05, 0.05, 0.15, 0.15, 0.1, 0.08, 0.08, 0.1, 0.05, 0.15, 0.1, 0.05, 0.05, 0.2, 0.15, 0.75, 0.08, 0.05, 0.05, 0.45, 0.05],
  [0.03, 0.08, 0.05, 0.05, 0.08, 0.05, 0.1, 0.05, 0.08, 0.05, 0.2, 0.05, 0.12, 0.05, 0.08, 0.3, 0.03, 0.03, 0.03, 0.2, 0.18, 0.05, 0.18, 0.03, 0.2, 0.05, 0.05, 0.3, 0.08, 0.05, 0.08, 0.05, 0.05, 0.1, 0.05, 0.05, 0.05, 0.05, 0.05, 0.03, 0.12, 0.03, 0.05, 0.05, 0.45, 0.05, 0.03, 0.05, 0.12, 0.85, 0.65, 0.03, 0.03, 0.15, 0.78, 0.03],
  [0.03, 0.05, 0.05, 0.05, 0.45, 0.25, 0.35, 0.05, 0.08, 0.05, 0.25, 0.05, 0.08, 0.05, 0.05, 0.2, 0.03, 0.03, 0.03, 0.2, 0.05, 0.05, 0.45, 0.03, 0.95, 0.05, 0.05, 0.45, 0.1, 0.05, 0.05, 0.05, 0.03, 0.03, 0.03, 0.03, 0.03, 0.05, 0.05, 0.03, 0.75, 0.03, 0.05, 0.05, 0.95, 0.03, 0.03, 0.03, 0.08, 1, 0.95, 0.03, 0.03, 0.65, 0.8, 0.03],
  [0.02, 0.22, 0.05, 0.05, 0.95, 1, 0.38, 0.03, 0.8, 0.05, 0.55, 0.03, 0.05, 0.03, 0.9, 0.55, 0.03, 0.03, 0.03, 1, 0.55, 0.03, 1, 0.03, 0.97, 0.03, 0.03, 0.92, 0.95, 0.28, 1, 0.28, 0.05, 0.03, 0.03, 0.03, 0.03, 0.6, 0.05, 0.03, 1, 1, 0.55, 0.03, 1, 0.03, 0.03, 0.03, 0.15, 1, 1, 0.03, 0.03, 0.95, 1, 0.03],
  [0.02, 1, 0.75, 1, 0.82, 0.63, 0.5, 0.55, 0.75, 0.58, 0.45, 0.72, 0.3, 0.55, 1, 0.95, 0.95, 0.6, 1, 0.82, 1, 0.65, 0.7, 0.38, 1, 0.6, 0.65, 0.8, 0.75, 0.88, 0.85, 0.85, 0.72, 0.92, 0.92, 0.62, 0.42, 1, 0.9, 0.88, 1, 0.42, 0.7, 0.4, 0.55, 0.55, 0.72, 0.38, 0.5, 0.45, 0.4, 0.58, 0.8, 0.5, 1, 0.75],
];

// outlined cells: [token index, layer]
const boxedCells = [
  [0, 32], [0, 31], [27, 32], [38, 32], [40, 32],
  [49, 32], [49, 31], [49, 30], [49, 29], [49, 28], [49, 27], [49, 26], [49, 25], [49, 24], [49, 23], [49, 22],
  [54, 32],
];

const colorbarTicks = [0.2, 0.4, 0.6, 0.8, 1.0];
const colorbarData = [{ name: 'score', value: 1 }];

// layout, in the 5600x1155 design frame
const DESIGN_W = 5600;
const DESIGN_H = 1155;
const PLOT_L = 102;
const PLOT_R = 4488;
const PLOT_T = 155;
const PLOT_B = 1140;
const CELL_W = (PLOT_R - PLOT_L) / tokens.length;
const CELL_H = (PLOT_B - PLOT_T) / layerNumbers.length;
const TICK_FS = 13.9;
const CELL_FS = 11.1;
const LABEL_BOTTOM = 143;

const VIRIDIS = ['#440154', '#482475', '#414487', '#355f8d', '#2a788e', '#21918c', '#22a884', '#44bf70', '#7ad151', '#bddf26', '#fde725'];

const hexToRgb = (h: string) => [1, 3, 5].map((i) => parseInt(h.slice(i, i + 2), 16));

function viridis(t: number) {
  const v = Math.max(0, Math.min(1, t)) * 10;
  const i = Math.min(9, Math.floor(v));
  const f = v - i;
  const a = hexToRgb(VIRIDIS[i]);
  const b = hexToRgb(VIRIDIS[i + 1]);
  const c = a.map((x, k) => Math.round(x + (b[k] - x) * f));
  return `rgb(${c[0]},${c[1]},${c[2]})`;
}

const cells = layerNumbers.flatMap((layer, r) =>
  topWords[r].split(' ').map((word, c) => ({ x: c, y: layer, word, score: scores[r][c] }))
);
const boxes = boxedCells.map(([c, layer]) => ({ x: c, y: layer }));

let measureCtx: CanvasRenderingContext2D | null = null;
function textWidth(s: string, size: number) {
  if (!measureCtx) measureCtx = document.createElement('canvas').getContext('2d');
  if (!measureCtx) return s.length * size * 0.6;
  measureCtx.font = `${size}px "DejaVu Sans"`;
  return measureCtx.measureText(s).width;
}

const CellRect = (props: any) => {
  const { cx, cy, payload } = props;
  if (cx == null || cy == null) return <g />;
  return (
    <rect x={cx - CELL_W / 2 - 0.3} y={cy - CELL_H / 2 - 0.3} width={CELL_W + 0.6} height={CELL_H + 0.6} fill={viridis(payload.score)} />
  );
};

const CellText = (props: any) => {
  const { cx, cy, payload } = props;
  if (cx == null || cy == null) return <g />;
  return (
    <text x={cx} y={cy} textAnchor="middle" dominantBaseline="central" fontSize={CELL_FS} fontFamily={FONT} fill="#000">
      {payload.word}
    </text>
  );
};

const CellBox = (props: any) => {
  const { cx, cy } = props;
  if (cx == null || cy == null) return <g />;
  return <rect x={cx - CELL_W / 2} y={cy - CELL_H / 2} width={CELL_W} height={CELL_H} fill="none" stroke="#000" strokeWidth={2} />;
};

// matplotlib-like rotated label: bbox right edge at the tick, bottom at LABEL_BOTTOM
const TopTick = (props: any) => {
  const { x, payload } = props;
  const label = tokens[payload.value] ?? '';
  const L = textWidth(label, TICK_FS);
  const d = TICK_FS * 0.236;
  const px = x - 0.7071 * (L + d);
  const py = LABEL_BOTTOM - 0.7071 * d;
  return (
    <text x={px} y={py} transform={`rotate(-45 ${px} ${py})`} fontSize={TICK_FS} fontFamily={FONT} fill="#000">
      {label}
    </text>
  );
};

const TitleLabel = () => (
  <g>
    <text x={(PLOT_L + PLOT_R) / 2} y={22} textAnchor="middle" dominantBaseline="central" fontSize={16.7} fontFamily={FONT} fill="#000">
      YOU1000000133_S0000043
    </text>
    <text x={(PLOT_L + PLOT_R) / 2} y={43} textAnchor="middle" dominantBaseline="central" fontSize={TICK_FS} fontFamily={FONT} fill="#000">
      token position
    </text>
  </g>
);

const LayerLabel = () => {
  const x = 19;
  const y = (PLOT_T + PLOT_B) / 2;
  return (
    <text x={x} y={y} transform={`rotate(-90 ${x} ${y})`} textAnchor="middle" dominantBaseline="central" fontSize={TICK_FS} fontFamily={FONT} fill="#000">
      layer (0 at bottom)
    </text>
  );
};

const ScoreLabel = () => {
  const x = 150;
  const y = (PLOT_T + PLOT_B) / 2;
  return (
    <text x={x} y={y} transform={`rotate(-90 ${x} ${y})`} textAnchor="middle" dominantBaseline="central" fontSize={TICK_FS} fontFamily={FONT} fill="#000">
      score
    </text>
  );
};

export default function App() {
  // the window can be narrower than the 5600px design; fit the design to it
  const sx = typeof window !== 'undefined' && window.innerWidth > 0 ? Math.min(1, window.innerWidth / DESIGN_W) : 1;
  const sy = typeof window !== 'undefined' && window.innerHeight > 0 ? Math.min(1, window.innerHeight / DESIGN_H) : 1;
  return (
    <div style={{ position: 'fixed', left: 0, top: 0, width: DESIGN_W * sx, height: DESIGN_H * sy, overflow: 'hidden', background: '#fff' }}>
      <div
        style={{
          position: 'absolute',
          left: 0,
          top: 0,
          width: DESIGN_W,
          height: DESIGN_H,
          background: '#fff',
          fontFamily: FONT,
          transform: `scale(${sx}, ${sy})`,
          transformOrigin: '0 0',
        }}
      >
        <div style={{ position: 'absolute', left: 0, top: 0 }}>
          <ScatterChart width={DESIGN_W} height={DESIGN_H} margin={{ top: PLOT_T - 100, right: DESIGN_W - PLOT_R, bottom: DESIGN_H - PLOT_B, left: PLOT_L - 90 }}>
            <XAxis
              type="number"
              dataKey="x"
              orientation="top"
              height={100}
              domain={[-0.5, tokens.length - 0.5]}
              ticks={tokens.map((_, i) => i)}
              interval={0}
              tick={<TopTick />}
              tickSize={5}
              tickLine={{ stroke: '#000' }}
              axisLine={{ stroke: '#000' }}
              allowDataOverflow
              label={TitleLabel}
            />
            <YAxis
              type="number"
              dataKey="y"
              width={90}
              domain={[-0.5, layerNumbers.length - 0.5]}
              ticks={layerNumbers}
              interval={0}
              tickFormatter={(v: number) => `layer ${v}`}
              tick={{ fontSize: TICK_FS, fill: '#000', fontFamily: FONT }}
              tickSize={5}
              tickMargin={4}
              tickLine={{ stroke: '#000' }}
              axisLine={{ stroke: '#000' }}
              allowDataOverflow
              label={LayerLabel}
            />
            <Scatter data={cells} shape={<CellRect />} isAnimationActive={false} />
            <Scatter data={cells} shape={<CellText />} isAnimationActive={false} />
            <Scatter data={boxes} shape={<CellBox />} isAnimationActive={false} />
            <ReferenceArea x1={-0.5} x2={tokens.length - 0.5} y1={-0.5} y2={layerNumbers.length - 0.5} fill="none" fillOpacity={0} stroke="#000" strokeWidth={1} ifOverflow="visible" />
          </ScatterChart>
        </div>
        <div style={{ position: 'absolute', left: 4700, top: 0 }}>
          <BarChart width={200} height={DESIGN_H} data={colorbarData} margin={{ top: PLOT_T, right: 27, bottom: DESIGN_H - PLOT_B, left: 62 }} barCategoryGap={0}>
            <defs>
              <linearGradient id="viridisBar" x1="0" y1="1" x2="0" y2="0">
                {VIRIDIS.map((c, i) => (
                  <stop key={c} offset={`${i * 10}%`} stopColor={c} />
                ))}
              </linearGradient>
            </defs>
            <XAxis dataKey="name" hide />
            <YAxis
              orientation="right"
              width={60}
              domain={[0, 1]}
              ticks={colorbarTicks}
              interval={0}
              tickFormatter={(v: number) => v.toFixed(1)}
              tick={{ fontSize: TICK_FS, fill: '#000', fontFamily: FONT }}
              tickSize={5}
              tickMargin={4}
              tickLine={{ stroke: '#000' }}
              axisLine={false}
              label={ScoreLabel}
            />
            <Bar dataKey="value" fill="url(#viridisBar)" stroke="#000" strokeWidth={0.8} isAnimationActive={false} />
          </BarChart>
        </div>
      </div>
    </div>
  );
}
